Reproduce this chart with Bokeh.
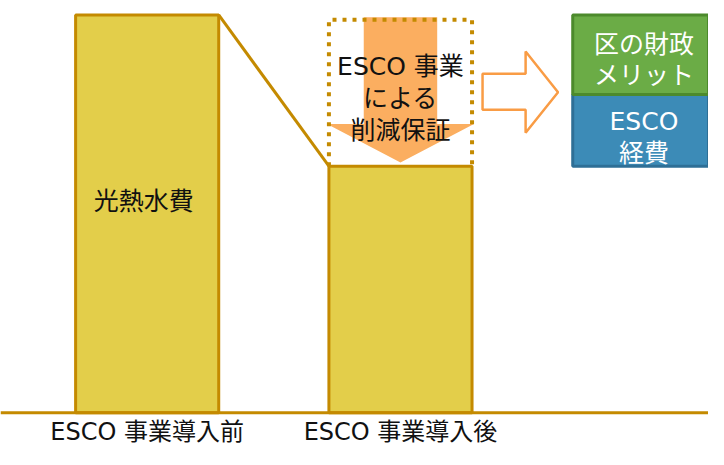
from bokeh.plotting import figure
from bokeh.models import Range1d, Span
from bokeh.core.properties import value
from bokeh.embed import file_html
from bokeh.resources import INLINE

# ---- data ----
categories = ["ESCO 事業導入前", "ESCO 事業導入後"]
utility_cost = [100, 62]          # 光熱水費 (before / after)
esco_cost = 18                    # ESCO 経費
city_merit = 20                   # 区の財政メリット
bar_label = "光熱水費"
saving_label = ["ESCO 事業", "による", "削減保証"]
merit_label = ["区の財政", "メリット"]
esco_label = ["ESCO", "経費"]

FONT = value("DejaVu Sans, Noto Sans CJK JP")
GOLD = "#C48A00"
YELLOW = "#E3CE4A"
ORANGE = "#FBAE60"

p = figure(width=708, height=449, output_backend="svg", toolbar_location=None,
           x_range=Range1d(-0.579, 2.216), y_range=Range1d(-9.22, 103.64),
           min_border=0, background_fill_color="white", border_fill_color="white")
p.axis.visible = False
p.grid.visible = False
p.outline_line_color = None

xs = list(range(len(categories)))
bw = 0.565
before, after = utility_cost

# bars
p.vbar(x=xs, top=utility_cost, bottom=0, width=bw, fill_color=YELLOW,
       line_color=GOLD, line_width=3)

# connecting line
p.line(x=[xs[0] + bw / 2, xs[1] - bw / 2], y=[before, after], line_color=GOLD, line_width=3)

# orange downward arrow (saving)
sh, hh = 0.145, 0.29
head_base = after + 10.6
tip = after + 0.9
top = before - 0.6
p.patch(x=[xs[1] - sh, xs[1] + sh, xs[1] + sh, xs[1] + hh, xs[1], xs[1] - hh, xs[1] - sh],
        y=[top, top, head_base, head_base, tip, head_base, head_base],
        fill_color=ORANGE, line_color=None)

# dotted box
box_top = before - 1.2
p.line(x=[xs[1] - bw / 2, xs[1] - bw / 2, xs[1] + bw / 2, xs[1] + bw / 2],
       y=[after, box_top, box_top, after], line_color=GOLD, line_width=4, line_dash="4 6")

# saving text
for txt, yy in zip(saving_label, [87.1, 79.1, 70.9]):
    p.text(x=[xs[1]], y=[yy], text=[txt], text_font=FONT, text_font_size="25px",
           text_color="#111111", text_align="center", text_baseline="middle")

# bar label
p.text(x=[xs[0] - 0.013], y=[53], text=[bar_label], text_font=FONT, text_font_size="25px",
       text_color="#111111", text_align="center", text_baseline="middle")

# hollow arrow to the right
ax = [1.324, 1.494, 1.494, 1.622, 1.494, 1.494, 1.324]
ay = [85.2, 85.2, 90.8, 80.6, 70.4, 76.2, 76.2]
p.patch(x=ax, y=ay, fill_color="white", line_color="#F99C45", line_width=2.5)

# result stack
rx, rw = 1.96, 0.56
p.vbar(x=[rx], bottom=[after], top=[after + esco_cost], width=rw,
       fill_color="#3C8BB7", line_color="#2E6F96", line_width=3)
p.vbar(x=[rx], bottom=[after + esco_cost], top=[after + esco_cost + city_merit], width=rw,
       fill_color="#6BAC46", line_color="#4C8A2C", line_width=3)
tx = 1.961
for txt, yy in zip(merit_label + esco_label, [92.7, 84.7, 73.1, 65.3]):
    p.text(x=[tx], y=[yy], text=[txt], text_font=FONT, text_font_size="25px",
           text_color="white", text_align="center", text_baseline="middle")

# baseline
p.add_layout(Span(location=0, dimension="width", line_color=GOLD, line_width=3))

# category labels
p.text(x=xs, y=[-4.8] * len(xs), text=categories, text_font=FONT, text_font_size="24px",
       text_color="#111111", text_align="center", text_baseline="middle")

open("out.html", "w").write(file_html(p, INLINE))
